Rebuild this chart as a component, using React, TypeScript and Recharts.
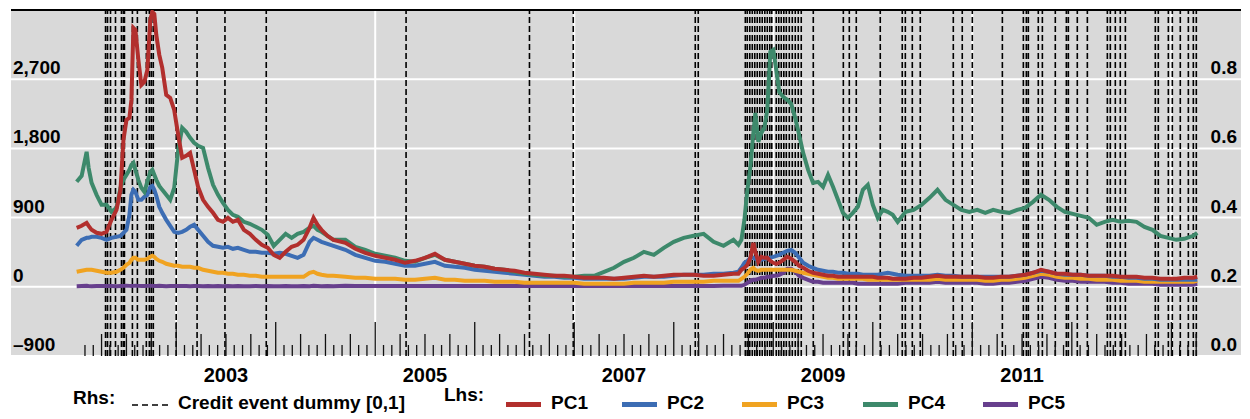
import React from 'react';
import { LineChart, Line, XAxis, YAxis, CartesianGrid, ReferenceLine } from 'recharts';

const FONT = "'Liberation Sans', Arial, Helvetica, sans-serif";

// decimal years
const dates = [
  2002.00, 2002.05, 2002.10, 2002.12, 2002.15, 2002.20, 2002.25, 2002.30, 2002.35, 2002.40,
  2002.44, 2002.47, 2002.50, 2002.53, 2002.55, 2002.57, 2002.59, 2002.62, 2002.65, 2002.68,
  2002.71, 2002.74, 2002.76, 2002.78, 2002.80, 2002.83, 2002.86, 2002.90, 2002.94, 2002.98,
  2003.02, 2003.06, 2003.10, 2003.14, 2003.18, 2003.22, 2003.27, 2003.32, 2003.37, 2003.42,
  2003.47, 2003.52, 2003.57, 2003.62, 2003.68, 2003.74, 2003.80, 2003.86, 2003.92, 2003.98,
  2004.04, 2004.10, 2004.16, 2004.22, 2004.28, 2004.34, 2004.38, 2004.42, 2004.46, 2004.52,
  2004.58,
  2004.7, 2004.8, 2004.9, 2005.0, 2005.1, 2005.2, 2005.3, 2005.4, 2005.5, 2005.6,
  2005.7, 2005.8, 2005.9, 2006.0, 2006.1, 2006.2, 2006.3, 2006.4, 2006.5, 2006.6,
  2006.7, 2006.8, 2006.9, 2007.0, 2007.1, 2007.2, 2007.3, 2007.4, 2007.5, 2007.6,
  2007.7, 2007.8, 2007.9, 2008.0, 2008.1, 2008.2, 2008.3, 2008.4, 2008.5, 2008.6,
  2008.65,
  2008.68, 2008.71, 2008.74, 2008.77, 2008.80, 2008.82, 2008.85, 2008.88, 2008.91, 2008.94,
  2008.97, 2009.00, 2009.03, 2009.06, 2009.10, 2009.14, 2009.18, 2009.22, 2009.26, 2009.30,
  2009.35, 2009.40, 2009.45, 2009.50, 2009.55, 2009.60, 2009.65, 2009.70, 2009.75, 2009.80,
  2009.85, 2009.90, 2009.95, 2010.00, 2010.05, 2010.10, 2010.15, 2010.20, 2010.25,
  2010.33, 2010.41, 2010.49, 2010.57, 2010.65, 2010.73, 2010.81, 2010.89, 2010.97, 2011.05,
  2011.13, 2011.21, 2011.29, 2011.37, 2011.45, 2011.53, 2011.61, 2011.69, 2011.77, 2011.85,
  2011.93, 2012.01, 2012.09, 2012.17, 2012.25, 2012.33, 2012.41, 2012.49, 2012.57, 2012.65,
  2012.73, 2012.81, 2012.89, 2012.97, 2013.05, 2013.13, 2013.22, 2013.26,
];

const pc1 = [
  767, 793, 832, 793, 741, 702, 689, 715, 871, 1001,
  1261, 1911, 2171, 2197, 2431, 3367, 3341, 2951, 2626, 2665,
  2821, 3471, 3575, 3549, 3276, 3016, 2847, 2496, 2457, 2301,
  1976, 1677, 1703, 1742, 1521, 1300, 1131, 1040, 962, 871,
  845, 897, 845, 871, 741, 689, 611, 546, 507, 416,
  377, 455, 520, 546, 611, 767, 897, 806, 741, 663,
  611,
  572, 494, 442, 403, 377, 351, 312, 338, 377, 429,
  351, 325, 299, 273, 260, 234, 221, 208, 182, 169,
  156, 143, 143, 130, 117, 117, 117, 104, 117, 130,
  143, 130, 143, 156, 156, 156, 143, 143, 156, 169,
  169,
  221, 247, 286, 377, 572, 455, 325, 390, 377, 377,
  338, 312, 299, 312, 351, 390, 364, 325, 273, 247,
  208, 182, 169, 156, 143, 143, 130, 130, 130, 130,
  130, 130, 130, 130, 117, 117, 117, 104, 104,
  104, 117, 117, 130, 143, 130, 130, 130, 130, 130,
  117, 117, 130, 130, 143, 156, 182, 221, 195, 169,
  169, 156, 156, 143, 143, 143, 143, 130, 130, 130,
  117, 117, 104, 104, 104, 117, 117, 130,
];

const pc2 = [
  533, 611, 637, 637, 650, 650, 637, 611, 637, 650,
  663, 702, 741, 936, 1196, 1261, 1235, 1131, 1131, 1170,
  1196, 1300, 1313, 1261, 1183, 1040, 962, 871, 793, 715,
  702, 715, 741, 780, 806, 741, 663, 585, 533, 520,
  507, 520, 494, 507, 481, 455, 455, 442, 442, 429,
  442, 429, 403, 377, 416, 585, 637, 611, 585, 559,
  533,
  481, 416, 377, 338, 325, 299, 273, 273, 299, 325,
  273, 260, 247, 221, 208, 195, 182, 169, 156, 143,
  130, 130, 117, 117, 104, 104, 104, 104, 104, 117,
  130, 130, 130, 143, 156, 156, 156, 169, 169, 182,
  195,
  247, 312, 338, 377, 377, 364, 351, 351, 364, 377,
  377, 390, 403, 416, 442, 468, 481, 442, 377, 312,
  273, 247, 221, 208, 195, 195, 182, 182, 169, 169,
  169, 156, 156, 156, 156, 169, 182, 169, 156,
  143, 143, 143, 143, 156, 143, 143, 130, 130, 130,
  130, 130, 130, 130, 143, 156, 182, 208, 195, 169,
  156, 156, 156, 143, 143, 143, 130, 130, 117, 117,
  104, 104, 91, 91, 91, 91, 91, 91,
];

const pc3 = [
  195, 208, 221, 221, 221, 208, 195, 182, 182, 195,
  221, 247, 286, 312, 351, 377, 377, 351, 351, 351,
  364, 390, 403, 390, 364, 338, 325, 299, 286, 273,
  273, 260, 260, 260, 247, 247, 221, 208, 195, 182,
  182, 169, 169, 156, 156, 143, 143, 130, 130, 130,
  130, 130, 130, 130, 130, 182, 195, 169, 156, 143,
  143,
  130, 117, 117, 104, 104, 104, 91, 91, 104, 117,
  91, 91, 78, 78, 78, 65, 65, 65, 52, 52,
  52, 52, 52, 52, 39, 39, 39, 39, 39, 52,
  52, 52, 52, 65, 65, 65, 65, 78, 78, 78,
  78,
  104, 130, 169, 221, 247, 221, 208, 221, 221, 221,
  221, 221, 221, 221, 221, 221, 221, 208, 195, 182,
  169, 156, 143, 130, 117, 117, 104, 104, 104, 104,
  104, 104, 91, 91, 91, 91, 91, 91, 91,
  91, 91, 91, 91, 104, 91, 91, 91, 91, 91,
  78, 78, 91, 91, 104, 117, 143, 169, 156, 130,
  117, 117, 104, 104, 91, 91, 91, 78, 78, 78,
  65, 65, 65, 65, 65, 65, 65, 78,
];

const pc4 = [
  1365, 1443, 1755, 1547, 1352, 1196, 1066, 1066, 975, 1027,
  1287, 1391, 1456, 1521, 1586, 1612, 1521, 1391, 1287, 1235,
  1365, 1495, 1521, 1456, 1391, 1313, 1261, 1196, 1131, 1287,
  1781, 2067, 2015, 1937, 1872, 1833, 1807, 1547, 1326, 1196,
  1092, 1001, 936, 910, 845, 819, 780, 741, 676, 533,
  611, 689, 637, 689, 715, 767, 793, 741, 715, 663,
  611,
  611, 520, 481, 429, 403, 377, 338, 325, 377, 416,
  351, 325, 299, 273, 260, 234, 221, 195, 169, 156,
  143, 143, 130, 130, 143, 143, 195, 247, 325, 377,
  455, 416, 507, 585, 637, 663, 689, 585, 533, 611,
  546,
  611, 871, 1261, 1560, 2002, 2262, 1885, 2002, 2067, 2301,
  3055, 3081, 2821, 2535, 2470, 2431, 2379, 2197, 1976, 1742,
  1521, 1352, 1365, 1300, 1456, 1300, 1131, 962, 897, 962,
  1040, 1261, 1326, 1066, 897, 1001, 975, 936, 845,
  975, 1001, 1066, 1157, 1261, 1131, 1066, 1001, 975, 1001,
  962, 1001, 975, 962, 1001, 1027, 1105, 1196, 1131, 1040,
  975, 949, 923, 897, 806, 845, 871, 845, 858, 845,
  780, 741, 663, 637, 611, 624, 663, 702,
];

const pc5 = [
  8, 10, 12, 10, 8, 10, 10, 12, 10, 8,
  10, 12, 14, 12, 10, 12, 14, 12, 10, 10,
  12, 14, 12, 10, 10, 12, 10, 8, 10, 10,
  12, 10, 10, 8, 10, 10, 8, 10, 8, 10,
  8, 10, 8, 10, 8, 8, 10, 8, 10, 8,
  8, 10, 8, 8, 10, 8, 12, 10, 8, 10,
  8,
  13, 10, 12, 10, 10, 12, 10, 10, 12, 10,
  10, 12, 10, 10, 12, 10, 10, 12, 10, 12,
  10, 10, 12, 10, 10, 12, 10, 12, 10, 12,
  10, 12, 12, 10, 12, 14, 12, 12, 14, 14,
  14,
  13, 26, 52, 78, 91, 91, 104, 117, 117, 130,
  130, 143, 143, 156, 182, 234, 234, 195, 143, 117,
  91, 65, 65, 52, 52, 52, 52, 52, 52, 52,
  39, 39, 39, 39, 39, 39, 39, 39, 39,
  52, 52, 52, 52, 65, 52, 52, 52, 52, 52,
  39, 39, 52, 52, 65, 78, 104, 130, 117, 91,
  78, 78, 65, 65, 65, 65, 52, 52, 39, 39,
  39, 39, 26, 26, 26, 26, 26, 39,
];

// credit event dates (dummy = 1 on these days)
const creditEvents = [
  2002.29, 2002.31, 2002.34, 2002.39, 2002.45, 2002.47, 2002.48, 2002.56, 2002.61, 2002.70,
  2002.73, 2002.75, 2002.77, 2003.00, 2003.21, 2003.49, 2003.905, 2005.31, 2006.55, 2006.99,
  2008.216, 2008.246,
  2008.719, 2008.739, 2008.764, 2008.789, 2008.814, 2008.839, 2008.864, 2008.889, 2008.915, 2008.94,
  2008.965, 2008.985, 2009.03, 2009.055, 2009.08, 2009.106, 2009.131, 2009.161, 2009.191, 2009.221,
  2009.251, 2009.281, 2009.402, 2009.704, 2009.764, 2009.834, 2010.075, 2010.296, 2010.327, 2010.397,
  2010.477, 2010.809, 2010.899, 2011.0, 2011.302, 2011.513, 2011.543, 2011.563, 2011.663, 2011.704,
  2011.834, 2011.945, 2011.965, 2012.055, 2012.156, 2012.357, 2012.387, 2012.437, 2012.487, 2012.538,
  2012.839, 2012.869, 2012.97, 2013.01, 2013.09, 2013.171, 2013.221, 2013.251,
];

const leftTicks = [-900, 0, 900, 1800, 2700];
const rightTicks = [0, 0.2, 0.4, 0.6, 0.8];
const gridYears = [2003, 2005, 2007, 2009, 2011, 2013];
const labelYears = [2003, 2005, 2007, 2009, 2011];

const monthTicks: number[] = [];
for (let m = 1; m <= 135; m++) monthTicks.push(2002 + m / 12);

const series = [
  { key: 'pc5', name: 'PC5', color: '#673f8d' },
  { key: 'pc3', name: 'PC3', color: '#f0a321' },
  { key: 'pc2', name: 'PC2', color: '#3c6db4' },
  { key: 'pc4', name: 'PC4', color: '#3d896b' },
  { key: 'pc1', name: 'PC1', color: '#b22f2d' },
];

const rows = dates.map((t, i) => ({ t, pc1: pc1[i], pc2: pc2[i], pc3: pc3[i], pc4: pc4[i], pc5: pc5[i] }));
const dummyRows = creditEvents.flatMap((t) => [
  { t, d: 0 },
  { t, d: 1 },
  { t, d: null },
]);

const W = 1236;
const H = 411;

const fmtLeft = (v: number) => (v < 0 ? '\u2013' + Math.abs(v).toLocaleString('en-US') : v.toLocaleString('en-US'));

const MonthTick = (props: any) => {
  const { x, y, payload } = props;
  const idx = Math.round((payload.value - 2002) * 12);
  const m = ((idx % 12) + 12) % 12;
  const len = m === 0 ? 34 : m % 3 === 0 ? 22 : 11;
  const yr = 2002 + Math.floor(idx / 12);
  const label = m === 6 && labelYears.includes(yr) ? String(yr) : null;
  return (
    <g>
      <line x1={x} x2={x} y1={y} y2={y - len} stroke="#111" strokeWidth={1.3} />
      {label && (
        <text x={x} y={y + 26} textAnchor="middle" fontFamily={FONT} fontWeight="bold" fontSize={20} fill="#000">
          {label}
        </text>
      )}
    </g>
  );
};

const LeftTick = (props: any) => (
  <text x={props.x} y={props.y - 5} textAnchor="start" fontFamily={FONT} fontWeight="bold" fontSize={19} fill="#000">
    {fmtLeft(props.payload.value)}
  </text>
);

const RightTick = (props: any) => (
  <text x={props.x} y={props.y - 5} textAnchor="end" fontFamily={FONT} fontWeight="bold" fontSize={19} fill="#000">
    {Number(props.payload.value).toFixed(1)}
  </text>
);

const legendItems = [
  { name: 'PC1', color: '#b22f2d', x: 498 },
  { name: 'PC2', color: '#3c6db4', x: 614 },
  { name: 'PC3', color: '#f0a321', x: 734 },
  { name: 'PC4', color: '#3d896b', x: 855 },
  { name: 'PC5', color: '#673f8d', x: 975 },
];

export default function App() {
  const txt = { fontFamily: FONT, fontWeight: 'bold' as const, fontSize: 19, fill: '#000' };
  return (
    <div style={{ position: 'relative', width: W, height: H }}>
      <LineChart width={W} height={H} margin={{ top: 2, right: 3, bottom: 23, left: 3 }}>
        <CartesianGrid
          xAxisId="t"
          yAxisId="L"
          fill="#d9d9d9"
          fillOpacity={1}
          stroke="#ffffff"
          strokeWidth={2}
          verticalValues={gridYears}
          horizontalValues={leftTicks}
        />
        <XAxis
          xAxisId="t"
          dataKey="t"
          type="number"
          domain={[2001.34, 2013.7]}
          allowDataOverflow
          ticks={monthTicks}
          interval={0}
          height={40}
          axisLine={false}
          tickLine={false}
          tickSize={0}
          tickMargin={0}
          tick={(p: any) => <MonthTick {...p} />}
        />
        <YAxis
          yAxisId="L"
          orientation="left"
          mirror
          type="number"
          domain={[-900, 3600]}
          allowDataOverflow
          ticks={leftTicks}
          interval={0}
          axisLine={false}
          tickLine={false}
          tickSize={0}
          tickMargin={2}
          tick={(p: any) => <LeftTick {...p} />}
        />
        <YAxis
          yAxisId="R"
          orientation="right"
          mirror
          type="number"
          domain={[0, 1]}
          allowDataOverflow
          ticks={rightTicks}
          interval={0}
          axisLine={false}
          tickLine={false}
          tickSize={0}
          tickMargin={4}
          tick={(p: any) => <RightTick {...p} />}
        />
        <ReferenceLine yAxisId="L" xAxisId="t" y={3600} stroke="#000" strokeWidth={2} />
        <Line
          data={dummyRows}
          xAxisId="t"
          yAxisId="R"
          dataKey="d"
          type="linear"
          stroke="#000"
          strokeWidth={1.6}
          strokeDasharray="6 3"
          dot={false}
          connectNulls={false}
          isAnimationActive={false}
        />
        {series.map((s) => (
          <Line
            key={s.key}
            data={rows}
            xAxisId="t"
            yAxisId="L"
            dataKey={s.key}
            name={s.name}
            type="linear"
            stroke={s.color}
            strokeWidth={4}
            dot={false}
            isAnimationActive={false}
          />
        ))}
      </LineChart>
      <svg width={W} height={H} style={{ position: 'absolute', left: 0, top: 0, pointerEvents: 'none' }}>
        <text x={65} y={396} {...txt}>Rhs:</text>
        <line x1={124} x2={160} y1={397} y2={397} stroke="#000" strokeWidth={1.5} strokeDasharray="6 4" />
        <text x={170} y={401} {...txt}>Credit event dummy [0,1]</text>
        <text x={436} y={393} {...txt}>Lhs:</text>
        {legendItems.map((it) => (
          <g key={it.name}>
            <rect x={it.x} y={394} width={35} height={5} fill={it.color} />
            <text x={it.x + 45} y={401} {...txt}>{it.name}</text>
          </g>
        ))}
      </svg>
    </div>
  );
}
